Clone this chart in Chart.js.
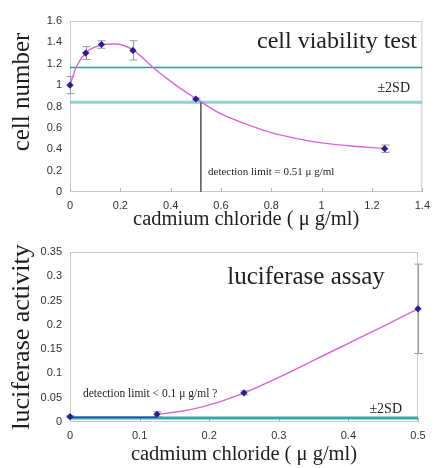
<!DOCTYPE html>
<html>
<head>
<meta charset="UTF-8">
<title>cadmium chloride</title>
<script src="https://cdn.jsdelivr.net/npm/chart.js@4.4.4/dist/chart.umd.min.js"></script>
<style>
body{margin:0;background:#fff;}
#wrap{position:relative;width:437px;height:468px;}
#viability{position:absolute;left:0;top:0;}
#luciferase{position:absolute;left:0;top:232px;}
</style>
</head>
<body>
<div id="wrap">
  <canvas id="viability" width="437" height="232"></canvas>
  <canvas id="luciferase" width="437" height="236"></canvas>
</div>
<script>
// cell viability test
const cellDose = [0, 0.0625, 0.125, 0.25, 0.5, 1.25];
const cellNumber = [1.0, 1.30, 1.38, 1.325, 0.87, 0.405];
const cellErr = [0.08, 0.06, 0.035, 0.09, 0.01, 0.035];
// smooth fitted curve
const cellFitX = [0, 0.025, 0.0625, 0.125, 0.18, 0.25, 0.33, 0.42, 0.5, 0.6, 0.7, 0.8, 0.9, 1.0, 1.1, 1.25];
const cellFitY = [1.0, 1.17, 1.30, 1.375, 1.385, 1.33, 1.165, 1.0, 0.875, 0.73, 0.635, 0.555, 0.5, 0.46, 0.435, 0.405];
const cellSD = [1.165, 0.84];
const cellLimit = 0.52;
const cellXTicks = [0, 0.2, 0.4, 0.6, 0.8, 1, 1.2, 1.4];
const cellYTicks = [0, 0.2, 0.4, 0.6, 0.8, 1, 1.2, 1.4, 1.6];

// luciferase assay
const lucDose = [0, 0.125, 0.25, 0.5];
const lucActivity = [0.011, 0.016, 0.060, 0.233];
const lucErr = [0.002, 0.005, 0.004, 0.092];
const lucFitX = [0.125, 0.16, 0.19, 0.22, 0.25, 0.3, 0.35, 0.4, 0.45, 0.5];
const lucFitY = [0.016, 0.022, 0.031, 0.044, 0.06, 0.092, 0.127, 0.162, 0.197, 0.233];
const lucSD = 0.008;
const lucXTicks = [0, 0.1, 0.2, 0.3, 0.4, 0.5];
const lucYTicks = [0, 0.05, 0.1, 0.15, 0.2, 0.25, 0.3, 0.35];

const serif = '"Liberation Serif", "DejaVu Serif", serif';
const sans = '"Liberation Sans", Arial, sans-serif';
const markColor = '#2c1f8e';
const curveColor = '#d966d9';

const pts = (xs, ys) => xs.map((x, i) => ({x: x, y: ys[i]}));

// light box round the plot and small inward ticks on the x axis
const framePlugin = {
  id: 'frame',
  beforeDatasetsDraw(chart) {
    const {ctx, chartArea: a, scales: {x}} = chart;
    ctx.save();
    ctx.strokeStyle = '#c9c9c9';
    ctx.lineWidth = 1;
    ctx.strokeRect(a.left + 0.5, a.top + 0.5, a.width - 1, a.height - 1);
    ctx.strokeStyle = '#b5b5b5';
    x.ticks.forEach(t => {
      const px = Math.round(x.getPixelForValue(t.value)) + 0.5;
      ctx.beginPath();
      ctx.moveTo(px, a.bottom);
      ctx.lineTo(px, a.bottom - 4);
      ctx.stroke();
    });
    ctx.restore();
  }
};

function errorBars(xs, ys, errs) {
  return {
    id: 'errorBars',
    beforeDatasetsDraw(chart) {
      const {ctx, scales: {x, y}} = chart;
      ctx.save();
      ctx.strokeStyle = '#9a9a9a';
      ctx.lineWidth = 1;
      xs.forEach((v, i) => {
        const px = Math.round(x.getPixelForValue(v)) + 0.5;
        const top = y.getPixelForValue(ys[i] + errs[i]);
        const bot = y.getPixelForValue(ys[i] - errs[i]);
        ctx.beginPath();
        ctx.moveTo(px, top); ctx.lineTo(px, bot);
        ctx.moveTo(px - 4, top); ctx.lineTo(px + 4, top);
        ctx.moveTo(px - 4, bot); ctx.lineTo(px + 4, bot);
        ctx.stroke();
      });
      ctx.restore();
    }
  };
}

function labels(items) {
  return {
    id: 'labels',
    afterDraw(chart) {
      const ctx = chart.ctx;
      ctx.save();
      ctx.fillStyle = '#1e1e1e';
      items.forEach(it => {
        ctx.save();
        ctx.font = it.font;
        ctx.textAlign = it.align || 'left';
        ctx.textBaseline = it.baseline || 'alphabetic';
        ctx.translate(it.x, it.y);
        if (it.rotate) ctx.rotate(it.rotate);
        ctx.fillText(it.text, 0, 0);
        ctx.restore();
      });
      ctx.restore();
    }
  };
}

function makeScales(xTicks, yTicks, xHeight) {
  const tickFont = {family: sans, size: 11};
  return {
    x: {
      type: 'linear',
      min: xTicks[0], max: xTicks[xTicks.length - 1],
      afterBuildTicks: s => { s.ticks = xTicks.map(v => ({value: v})); },
      afterFit: s => { s.height = xHeight; },
      grid: {display: false, drawTicks: false},
      border: {display: false},
      ticks: {font: tickFont, color: '#333', padding: 7, maxRotation: 0, callback: v => String(v)},
      title: {display: true, text: 'cadmium chloride ( μ g/ml)', font: {family: serif, size: 20.5, lineHeight: 1.2}, color: '#1e1e1e', padding: {top: 0, bottom: 0}}
    },
    y: {
      type: 'linear',
      min: yTicks[0], max: yTicks[yTicks.length - 1],
      afterBuildTicks: s => { s.ticks = yTicks.map(v => ({value: v})); },
      afterFit: s => { s.width = 70; },
      grid: {display: false, drawTicks: false},
      border: {display: false},
      ticks: {font: tickFont, color: '#333', padding: 8, callback: v => String(v)}
    }
  };
}

const common = {
  responsive: false,
  animation: false,
  plugins: {legend: {display: false}, tooltip: {enabled: false}}
};

new Chart(document.getElementById('viability'), {
  type: 'scatter',
  data: {
    datasets: [
      {data: pts(cellDose, cellNumber), pointStyle: 'rectRot', pointRadius: 3.6, backgroundColor: markColor, borderColor: markColor, borderWidth: 0, order: 0, clip: false},
      {data: pts(cellFitX, cellFitY), showLine: true, borderColor: curveColor, borderWidth: 1.4, pointRadius: 0, cubicInterpolationMode: 'monotone', order: 1, clip: false},
      {data: pts([cellLimit, cellLimit], [cellSD[1], 0]), showLine: true, borderColor: '#5e5e5e', borderWidth: 1.6, pointRadius: 0, order: 2, clip: false},
      {data: pts([0, 1.4], [cellSD[0], cellSD[0]]), showLine: true, borderColor: '#2f9ba0', borderWidth: 1.3, pointRadius: 0, order: 3},
      {data: pts([0, 1.4], [cellSD[1], cellSD[1]]), showLine: true, borderColor: '#8fd2d6', borderWidth: 3, pointRadius: 0, order: 3}
    ]
  },
  options: Object.assign({}, common, {
    layout: {padding: {top: 21, right: 10, left: 0, bottom: 0}},
    scales: makeScales(cellXTicks, cellYTicks, 40)
  }),
  plugins: [framePlugin, errorBars(cellDose, cellNumber, cellErr), labels([
    {text: 'cell number', font: '25px ' + serif, x: 22, y: 92, rotate: -Math.PI / 2, align: 'center', baseline: 'middle'},
    {text: 'cell viability test', font: '24px ' + serif, x: 417, y: 48, align: 'right'},
    {text: '±2SD', font: '14px ' + serif, x: 410, y: 92, align: 'right'},
    {text: 'detection limit = 0.51 μ g/ml', font: '11px ' + serif, x: 208, y: 175}
  ])]
});

new Chart(document.getElementById('luciferase'), {
  type: 'scatter',
  data: {
    datasets: [
      {data: pts(lucDose, lucActivity), pointStyle: 'rectRot', pointRadius: 3.6, backgroundColor: markColor, borderColor: markColor, borderWidth: 0, order: 0, clip: false},
      {data: pts(lucFitX, lucFitY), showLine: true, borderColor: curveColor, borderWidth: 1.4, pointRadius: 0, cubicInterpolationMode: 'monotone', order: 1, clip: false},
      {data: pts([lucDose[0], lucDose[1]], [lucActivity[0] - 0.001, lucActivity[0] - 0.001]), showLine: true, borderColor: '#3b3fa0', borderWidth: 1.5, pointRadius: 0, order: 2, clip: false},
      {data: pts([0, 0.5], [lucSD, lucSD]), showLine: true, borderColor: '#36a7aa', borderWidth: 3, pointRadius: 0, order: 3}
    ]
  },
  options: Object.assign({}, common, {
    layout: {padding: {top: 20, right: 19, left: 0, bottom: 1}},
    scales: makeScales(lucXTicks, lucYTicks, 45)
  }),
  plugins: [framePlugin, errorBars(lucDose, lucActivity, lucErr), labels([
    {text: 'luciferase activity', font: '26px ' + serif, x: 22, y: 105, rotate: -Math.PI / 2, align: 'center', baseline: 'middle'},
    {text: 'luciferase assay', font: '25px ' + serif, x: 306, y: 52, align: 'center'},
    {text: '±2SD', font: '14px ' + serif, x: 402, y: 181, align: 'right'},
    {text: 'detection limit < 0.1 μ g/ml ?', font: '11.5px ' + serif, x: 83, y: 165}
  ])]
});
</script>
</body>
</html>
